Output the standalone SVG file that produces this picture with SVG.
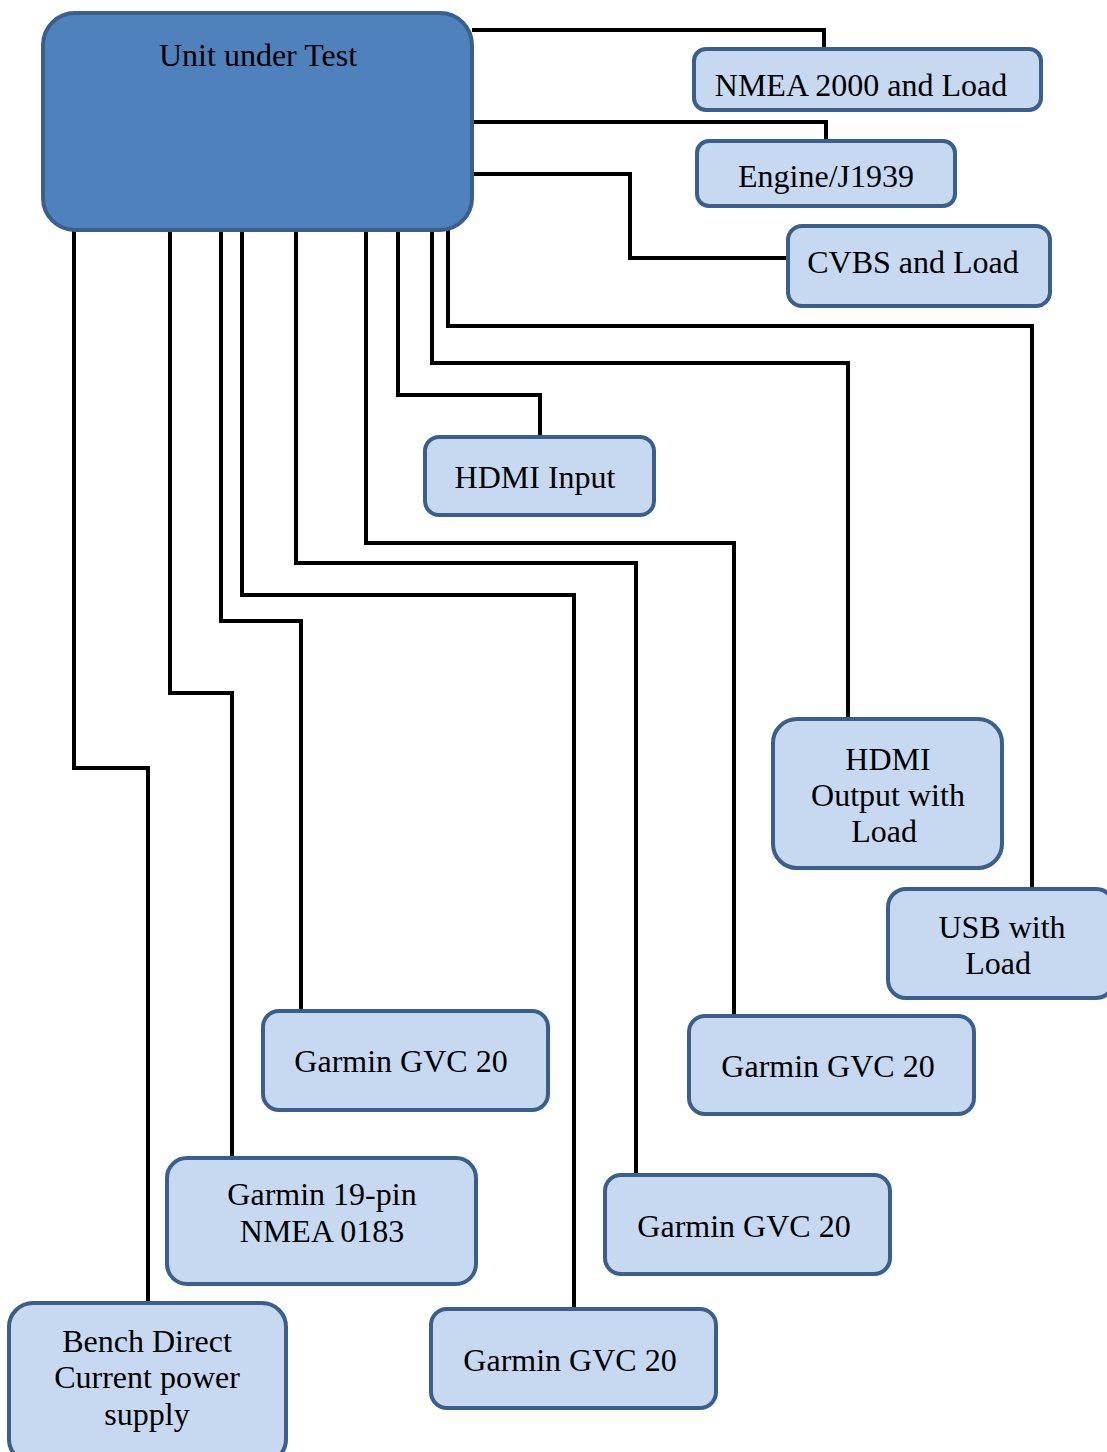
<svg xmlns="http://www.w3.org/2000/svg" width="1107" height="1452" viewBox="0 0 1107 1452">
<style>
.box{fill:#C6D9F1;stroke:#3B5F8C;stroke-width:4}
.main{fill:#4F81BD;stroke:#3B5F8C;stroke-width:4}
.t{font-family:"Liberation Serif","Times New Roman",serif;font-size:32px;fill:#000;text-anchor:middle}
.c{fill:none;stroke:#000;stroke-width:4;stroke-linejoin:miter}
</style>
<rect width="1107" height="1452" fill="#fff"/>
<g id="connectors">
<path class="c" d="M472,30 H824 V49"/>
<path class="c" d="M472,122 H826 V141"/>
<path class="c" d="M472,174 H630 V258 H788"/>
<path class="c" d="M448,230 V326 H1032 V889"/>
<path class="c" d="M432,230 V363 H848 V719"/>
<path class="c" d="M398,230 V395 H540 V437"/>
<path class="c" d="M366,230 V543 H734 V1016"/>
<path class="c" d="M296,230 V563 H636 V1175"/>
<path class="c" d="M242,230 V595 H574 V1309"/>
<path class="c" d="M221,230 V621 H301 V1011"/>
<path class="c" d="M170,230 V693 H232 V1158"/>
<path class="c" d="M74,230 V768 H148 V1303"/>
</g>
<g id="uut">
<rect class="main" x="43" y="13" width="429" height="217" rx="32"/>
<text class="t" x="258" y="66">Unit under Test</text>
</g>
<g id="nmea2000">
<rect class="box" x="694" y="49" width="347" height="61" rx="12"/>
<text class="t" x="861" y="96">NMEA 2000 and Load</text>
</g>
<g id="engine">
<rect class="box" x="697" y="141" width="258" height="65" rx="12"/>
<text class="t" x="826" y="187">Engine/J1939</text>
</g>
<g id="cvbs">
<rect class="box" x="788" y="226" width="262" height="80" rx="14"/>
<text class="t" x="913" y="273">CVBS and Load</text>
</g>
<g id="hdmi-input">
<rect class="box" x="425" y="437" width="229" height="78" rx="14"/>
<text class="t" x="535" y="488">HDMI Input</text>
</g>
<g id="hdmi-output">
<rect class="box" x="773" y="719" width="229" height="149" rx="24"/>
<text class="t" x="888" y="770">HDMI</text>
<text class="t" x="888" y="806">Output with</text>
<text class="t" x="884" y="842">Load</text>
</g>
<g id="usb">
<rect class="box" x="888" y="889" width="226" height="109" rx="18"/>
<text class="t" x="1002" y="938">USB with</text>
<text class="t" x="998" y="974">Load</text>
</g>
<g id="gvc-a">
<rect class="box" x="263" y="1011" width="285" height="99" rx="16"/>
<text class="t" x="401" y="1072">Garmin GVC 20</text>
</g>
<g id="gvc-b">
<rect class="box" x="689" y="1016" width="285" height="98" rx="16"/>
<text class="t" x="828" y="1077">Garmin GVC 20</text>
</g>
<g id="nmea0183">
<rect class="box" x="167" y="1158" width="309" height="126" rx="20"/>
<text class="t" x="322" y="1205">Garmin 19-pin</text>
<text class="t" x="322" y="1242">NMEA 0183</text>
</g>
<g id="gvc-c">
<rect class="box" x="605" y="1175" width="285" height="99" rx="16"/>
<text class="t" x="744" y="1237">Garmin GVC 20</text>
</g>
<g id="gvc-d">
<rect class="box" x="431" y="1309" width="285" height="99" rx="16"/>
<text class="t" x="570" y="1371">Garmin GVC 20</text>
</g>
<g id="bench">
<rect class="box" x="9" y="1303" width="277" height="160" rx="24"/>
<text class="t" x="147" y="1352">Bench Direct</text>
<text class="t" x="147" y="1388">Current power</text>
<text class="t" x="147" y="1425">supply</text>
</g>
</svg>
